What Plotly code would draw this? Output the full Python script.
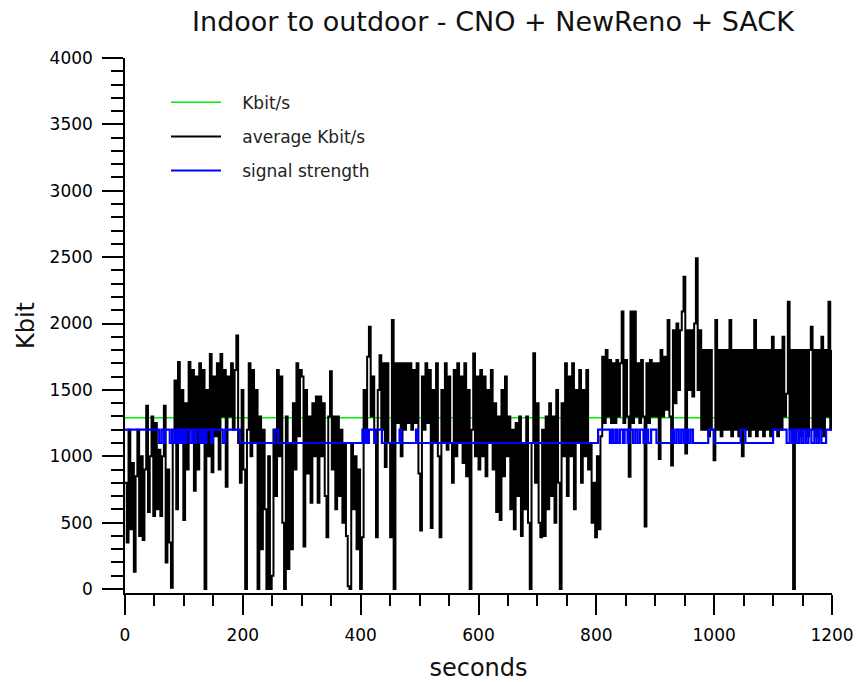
import plotly.graph_objects as go

# ---- data ----
# throughput samples every 3 seconds (0 .. 1200 s)
time_s = list(range(0, 1201, 3))
kbit = [
    800, 350, 1200, 450, 950, 130, 850, 1200, 400, 1000, 370, 900, 1380, 580, 1000, 1300, 550, 1250, 600, 1050,
    550, 1000, 1380, 200, 900, 350, 10, 1100, 1570, 600, 1710, 1100, 1500, 520, 1400, 900, 1710, 1200, 1650, 740,
    1600, 900, 1700, 1100, 1650, 0, 1500, 1000, 1770, 880, 1600, 1150, 1700, 900, 1770, 1300, 1650, 770, 1600, 1300,
    1700, 1200, 1650, 1910, 1100, 800, 1500, 900, 0, 1200, 1700, 1000, 1650, 1100, 1500, 0, 1300, 300, 1200, 600,
    0, 1000, 0, 100, 1200, 700, 1650, 1000, 1600, 500, 0, 1300, 150, 1100, 300, 1400, 900, 1700, 1150, 1650,
    1600, 320, 1500, 870, 1300, 650, 1400, 1000, 1450, 650, 1450, 1000, 1400, 700, 390, 1300, 1640, 900, 1300, 600,
    1300, 700, 1200, 500, 1100, 400, 20, 0, 1100, 600, 1000, 300, 900, 0, 390, 1500, 1200, 1750, 1976, 1300,
    1600, 1100, 390, 1500, 1760, 1200, 1700, 920, 1700, 1100, 390, 2026, 0, 1700, 1250, 1700, 1000, 1700, 1200, 1700,
    1250, 1700, 1200, 1650, 1250, 1700, 870, 440, 1600, 1200, 1700, 1250, 1650, 460, 1500, 1100, 1700, 1000, 390, 1500,
    1100, 1700, 1050, 1600, 1100, 800, 1650, 1000, 1700, 1100, 1600, 950, 1700, 850, 1500, 0, 1200, 1775, 1000, 1600,
    900, 1650, 1000, 1600, 850, 1500, 1100, 1650, 900, 1400, 580, 1300, 520, 1500, 850, 1600, 1000, 1300, 600, 1200,
    450, 1250, 700, 1300, 400, 1100, 600, 1300, 500, 0, 1100, 1776, 800, 1400, 500, 390, 1200, 400, 1300, 600,
    1400, 700, 1300, 500, 1500, 800, 0, 1400, 1000, 1700, 700, 1600, 1000, 1700, 600, 1500, 1100, 1650, 800, 1500,
    1000, 1650, 900, 1100, 500, 800, 390, 1000, 450, 1150, 1750, 1250, 1800, 1300, 1725, 1250, 1700, 1250, 1725, 1300,
    1700, 2090, 1250, 1725, 1300, 845, 2090, 1250, 2090, 1300, 1700, 1250, 1725, 1300, 470, 1700, 1250, 1725, 1300, 1700,
    1300, 1700, 980, 1800, 1300, 1750, 1350, 2026, 1300, 930, 1950, 1400, 2000, 1500, 1950, 2090, 2353, 1020, 1950, 1500,
    1950, 1450, 2000, 2491, 1500, 1950, 1200, 1800, 1200, 1800, 1150, 1800, 1200, 970, 2026, 1200, 1800, 1150, 1800, 1200,
    1800, 1200, 2026, 1150, 1800, 1200, 1800, 1150, 1800, 1000, 1800, 1200, 1800, 1150, 1800, 1200, 2026, 1150, 1800, 1200,
    1800, 1150, 1800, 1200, 1800, 1150, 1900, 1200, 1800, 1150, 1800, 1200, 1900, 1300, 1470, 2164, 1200, 1800, 0, 1800,
    1200, 1800, 1150, 1800, 1200, 1800, 1150, 1800, 1975, 1200, 1800, 1150, 1800, 1200, 1900, 1150, 1800, 1300, 2164, 1200,
    1800,
]

# constant reference level (green)
ref_time = [0, 1200]
ref_kbit = [1290, 1290]

# signal strength steps (time of change, level)
sig_time = [
    0, 58, 62, 66, 68, 76, 80, 84, 88, 90, 93, 96, 98, 101, 104, 110, 114, 118, 121, 127,
    130, 134, 138, 146, 149, 166, 170, 195, 254, 260, 403, 407, 409, 412, 414, 424, 426, 436, 466, 469,
    494, 497, 803, 823, 826, 829, 833, 836, 840, 845, 848, 853, 856, 862, 866, 870, 874, 880, 884, 888,
    893, 902, 928, 932, 936, 940, 944, 948, 952, 956, 960, 964, 990, 1000, 1045, 1053, 1100, 1123, 1128, 1132,
    1136, 1140, 1144, 1148, 1152, 1156, 1160, 1165, 1170, 1174, 1178, 1182, 1190, 1200,
]
sig_level = [
    1200, 1100, 1200, 1100, 1200, 1100, 1200, 1100, 1200, 1100, 1200, 1100, 1200, 1100, 1200, 1100, 1200, 1100, 1200, 1100,
    1200, 1100, 1200, 1100, 1200, 1100, 1200, 1100, 1200, 1100, 1200, 1100, 1200, 1100, 1200, 1100, 1200, 1100, 1200, 1100,
    1200, 1100, 1200, 1100, 1200, 1100, 1200, 1100, 1200, 1100, 1200, 1100, 1200, 1100, 1200, 1100, 1200, 1100, 1200, 1100,
    1200, 1100, 1200, 1100, 1200, 1100, 1200, 1100, 1200, 1100, 1200, 1100, 1200, 1100, 1200, 1100, 1200, 1100, 1200, 1100,
    1200, 1100, 1200, 1100, 1200, 1100, 1200, 1100, 1200, 1100, 1200, 1100, 1200, 1200,
]

x_ticks = [0, 200, 400, 600, 800, 1000, 1200]
y_ticks = [0, 500, 1000, 1500, 2000, 2500, 3000, 3500, 4000]

FONT = "DejaVu Sans"
PAD = "\u00a0\u00a0\u00a0"

fig = go.Figure()
fig.add_trace(go.Scatter(x=ref_time, y=ref_kbit, mode="lines", name=PAD + "Kbit/s",
                         line=dict(color="#00ee00", width=1.5), legendgroup="a"))
fig.add_trace(go.Scatter(x=time_s, y=kbit, mode="lines", name=PAD + "average Kbit/s",
                         line=dict(color="black", width=2.0, shape="hv", simplify=False), legendgroup="b"))
fig.add_trace(go.Scatter(x=sig_time, y=sig_level, mode="lines", name=PAD + "signal strength",
                         line=dict(color="#0000ff", width=2.2, shape="hv", simplify=False), legendgroup="c"))

fig.update_layout(
    width=859, height=682,
    margin=dict(l=125, r=27, t=58, b=89, autoexpand=False),
    paper_bgcolor="white", plot_bgcolor="white",
    font=dict(family=FONT, size=17, color="black"),
    title=dict(text="Indoor to outdoor - CNO + NewReno + SACK",
               x=493 / 859, xref="container", xanchor="center",
               y=1 - 22 / 682, yref="container", yanchor="middle",
               font=dict(family=FONT, size=27, color="#111")),
    showlegend=True,
    legend=dict(x=0.058, y=0.95, xanchor="left", yanchor="top",
                bgcolor="rgba(0,0,0,0)", font=dict(family=FONT, size=17, color="#222"),
                tracegroupgap=9, itemwidth=50),
    xaxis=dict(range=[0, 1200], tickvals=x_ticks, ticktext=[str(v) for v in x_ticks],
               automargin=False,
               showgrid=False, zeroline=False, showline=True, linecolor="black", linewidth=1.5,
               ticks="outside", ticklen=20, tickwidth=1.5, tickcolor="black",
               minor=dict(dtick=50, tick0=0, ticks="outside", ticklen=11, tickwidth=1.5, tickcolor="black"),
               ticklabelstandoff=6,
               title=dict(text="seconds", font=dict(family=FONT, size=24, color="#111"), standoff=18)),
    yaxis=dict(range=[-30, 4000], tickvals=y_ticks, ticktext=[str(v) for v in y_ticks],
               automargin=False,
               showgrid=False, zeroline=False, showline=True, linecolor="black", linewidth=1.5,
               ticks="outside", ticklen=21, tickwidth=1.5, tickcolor="black",
               minor=dict(dtick=100, tick0=0, ticks="outside", ticklen=12, tickwidth=1.5, tickcolor="black"),
               ticklabelstandoff=6,
               title=dict(text="Kbit", font=dict(family=FONT, size=24, color="#111"), standoff=8)),
)

fig.write_html("out.html")
